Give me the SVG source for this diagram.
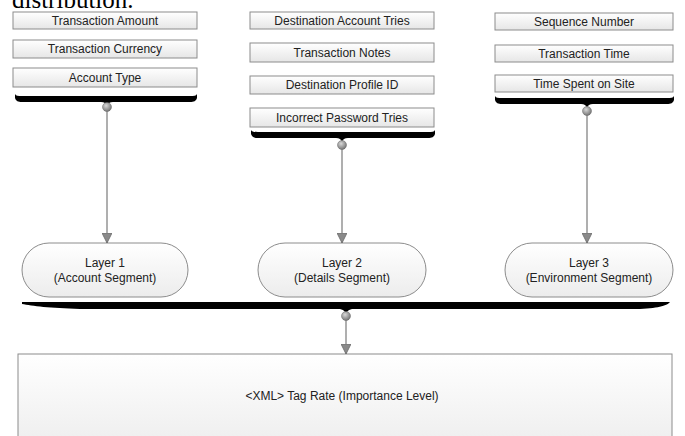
<svg xmlns="http://www.w3.org/2000/svg" width="685" height="436" viewBox="0 0 685 436">
<defs>
<linearGradient id="boxg" x1="0" y1="0" x2="0" y2="1">
<stop offset="0" stop-color="#ffffff"/><stop offset="1" stop-color="#e6e6e6"/>
</linearGradient>
<linearGradient id="pillg" x1="0" y1="0" x2="0" y2="1">
<stop offset="0" stop-color="#ffffff"/><stop offset="1" stop-color="#ececec"/>
</linearGradient>
<linearGradient id="bigg" x1="0" y1="0" x2="0" y2="1">
<stop offset="0" stop-color="#ffffff"/><stop offset="1" stop-color="#eeeeee"/>
</linearGradient>
<radialGradient id="ball" cx="0.4" cy="0.35" r="0.7">
<stop offset="0" stop-color="#d8d8d8"/><stop offset="1" stop-color="#6e6e6e"/>
</radialGradient>
<marker id="arr" viewBox="0 0 10 10" refX="10" refY="5" markerWidth="10" markerHeight="10" markerUnits="userSpaceOnUse" orient="auto">
<path d="M0,0 L10,5 L0,10 Z" fill="#8a8a8a" stroke="#6a6a6a" stroke-width="0.8"/>
</marker>
</defs>
<style>
.box{fill:url(#boxg);stroke:#8c8c8c;stroke-width:1}
.pill{fill:url(#pillg);stroke:#8c8c8c;stroke-width:1}
.t{font-family:"Liberation Sans",Arial,sans-serif;font-size:12px;fill:#222;text-anchor:middle}
.bar{fill:#000}
.ball{fill:url(#ball);stroke:#666;stroke-width:0.5}
.ln{stroke:#7a7a7a;stroke-width:1.2;fill:none}
</style>
<rect width="685" height="436" fill="#ffffff"/>
<text x="12" y="8" font-family="Liberation Serif,'Times New Roman',serif" font-size="25" fill="#000">distribution.</text>

<g id="n-transaction-amount"><rect class="box" x="13" y="12" width="184" height="17"/><text class="t" x="105" y="25">Transaction Amount</text></g>
<g id="n-transaction-currency"><rect class="box" x="13" y="40" width="184" height="18"/><text class="t" x="105" y="53">Transaction Currency</text></g>
<g id="n-account-type"><rect class="box" x="13" y="68" width="184" height="19"/><text class="t" x="105" y="82">Account Type</text></g>

<g id="n-dest-account-tries"><rect class="box" x="250" y="12" width="184" height="17"/><text class="t" x="342" y="25">Destination Account Tries</text></g>
<g id="n-transaction-notes"><rect class="box" x="250" y="43" width="184" height="19"/><text class="t" x="342" y="57">Transaction Notes</text></g>
<g id="n-dest-profile-id"><rect class="box" x="250" y="76" width="184" height="18"/><text class="t" x="342" y="89">Destination Profile ID</text></g>
<g id="n-incorrect-password"><rect class="box" x="250" y="108" width="184" height="19"/><text class="t" x="342" y="122">Incorrect Password Tries</text></g>

<g id="n-sequence-number"><rect class="box" x="495" y="13" width="178" height="17"/><text class="t" x="584" y="26">Sequence Number</text></g>
<g id="n-transaction-time"><rect class="box" x="495" y="45" width="178" height="17"/><text class="t" x="584" y="58">Transaction Time</text></g>
<g id="n-time-spent"><rect class="box" x="495" y="75" width="178" height="17"/><text class="t" x="584" y="88">Time Spent on Site</text></g>

<g id="n-layer1"><rect class="pill" x="22" y="243" width="166" height="54" rx="27"/><text class="t" x="105" y="267">Layer 1</text><text class="t" x="105" y="282">(Account Segment)</text></g>
<g id="n-layer2"><rect class="pill" x="258" y="243" width="168" height="54" rx="27"/><text class="t" x="342" y="267">Layer 2</text><text class="t" x="342" y="282">(Details Segment)</text></g>
<g id="n-layer3"><rect class="pill" x="505" y="243" width="168" height="54" rx="27"/><text class="t" x="589" y="267">Layer 3</text><text class="t" x="589" y="282">(Environment Segment)</text></g>

<g id="n-xml-tag-rate"><rect x="18" y="354" width="654" height="90" fill="url(#bigg)" stroke="#8c8c8c" stroke-width="1"/><text class="t" x="342" y="400" font-size="13.5">&lt;XML&gt; Tag Rate (Importance Level)</text></g>

<g id="connectors">
<path class="bar" d="M15,94 C16,96 18,96 22,96 L190,96 C194,96 196,96 197,94 L197,98 C196,101 194,102 190,102 L113,102 Q108,102 107,106 Q106,102 101,102 L22,102 C18,102 16,101 15,98 Z"/>
<path class="bar" d="M251,130 C252,132 254,132 258,132 L428,132 C432,132 434,132 435,130 L435,134 C434,137 432,138 428,138 L348,138 Q343,138 342,142 Q341,138 336,138 L258,138 C254,138 252,137 251,134 Z"/>
<path class="bar" d="M495,96 C496,98 498,98 502,98 L667,98 C671,98 673,98 674,96 L674,100 C673,103 671,104 667,104 L593,104 Q588,104 587,108 Q586,104 581,104 L502,104 C498,104 496,103 495,100 Z"/>
<path class="bar" d="M22,302 L670,302 C668,305 660,308 640,309 L352,309 Q347,310 346,314 Q345,310 340,309 L80,309 C50,308 32,306 22,304 Z"/>
<line class="ln" x1="107" y1="108" x2="107" y2="243" marker-end="url(#arr)"/>
<line class="ln" x1="342" y1="146" x2="342" y2="243" marker-end="url(#arr)"/>
<line class="ln" x1="587" y1="112" x2="587" y2="243" marker-end="url(#arr)"/>
<line class="ln" x1="346" y1="317" x2="346" y2="354" marker-end="url(#arr)"/>
<circle class="ball" cx="107" cy="107" r="4.5"/>
<circle class="ball" cx="342" cy="145" r="4.5"/>
<circle class="ball" cx="587" cy="111" r="4.5"/>
<circle class="ball" cx="346" cy="316" r="4.5"/>
</g>
</svg>
